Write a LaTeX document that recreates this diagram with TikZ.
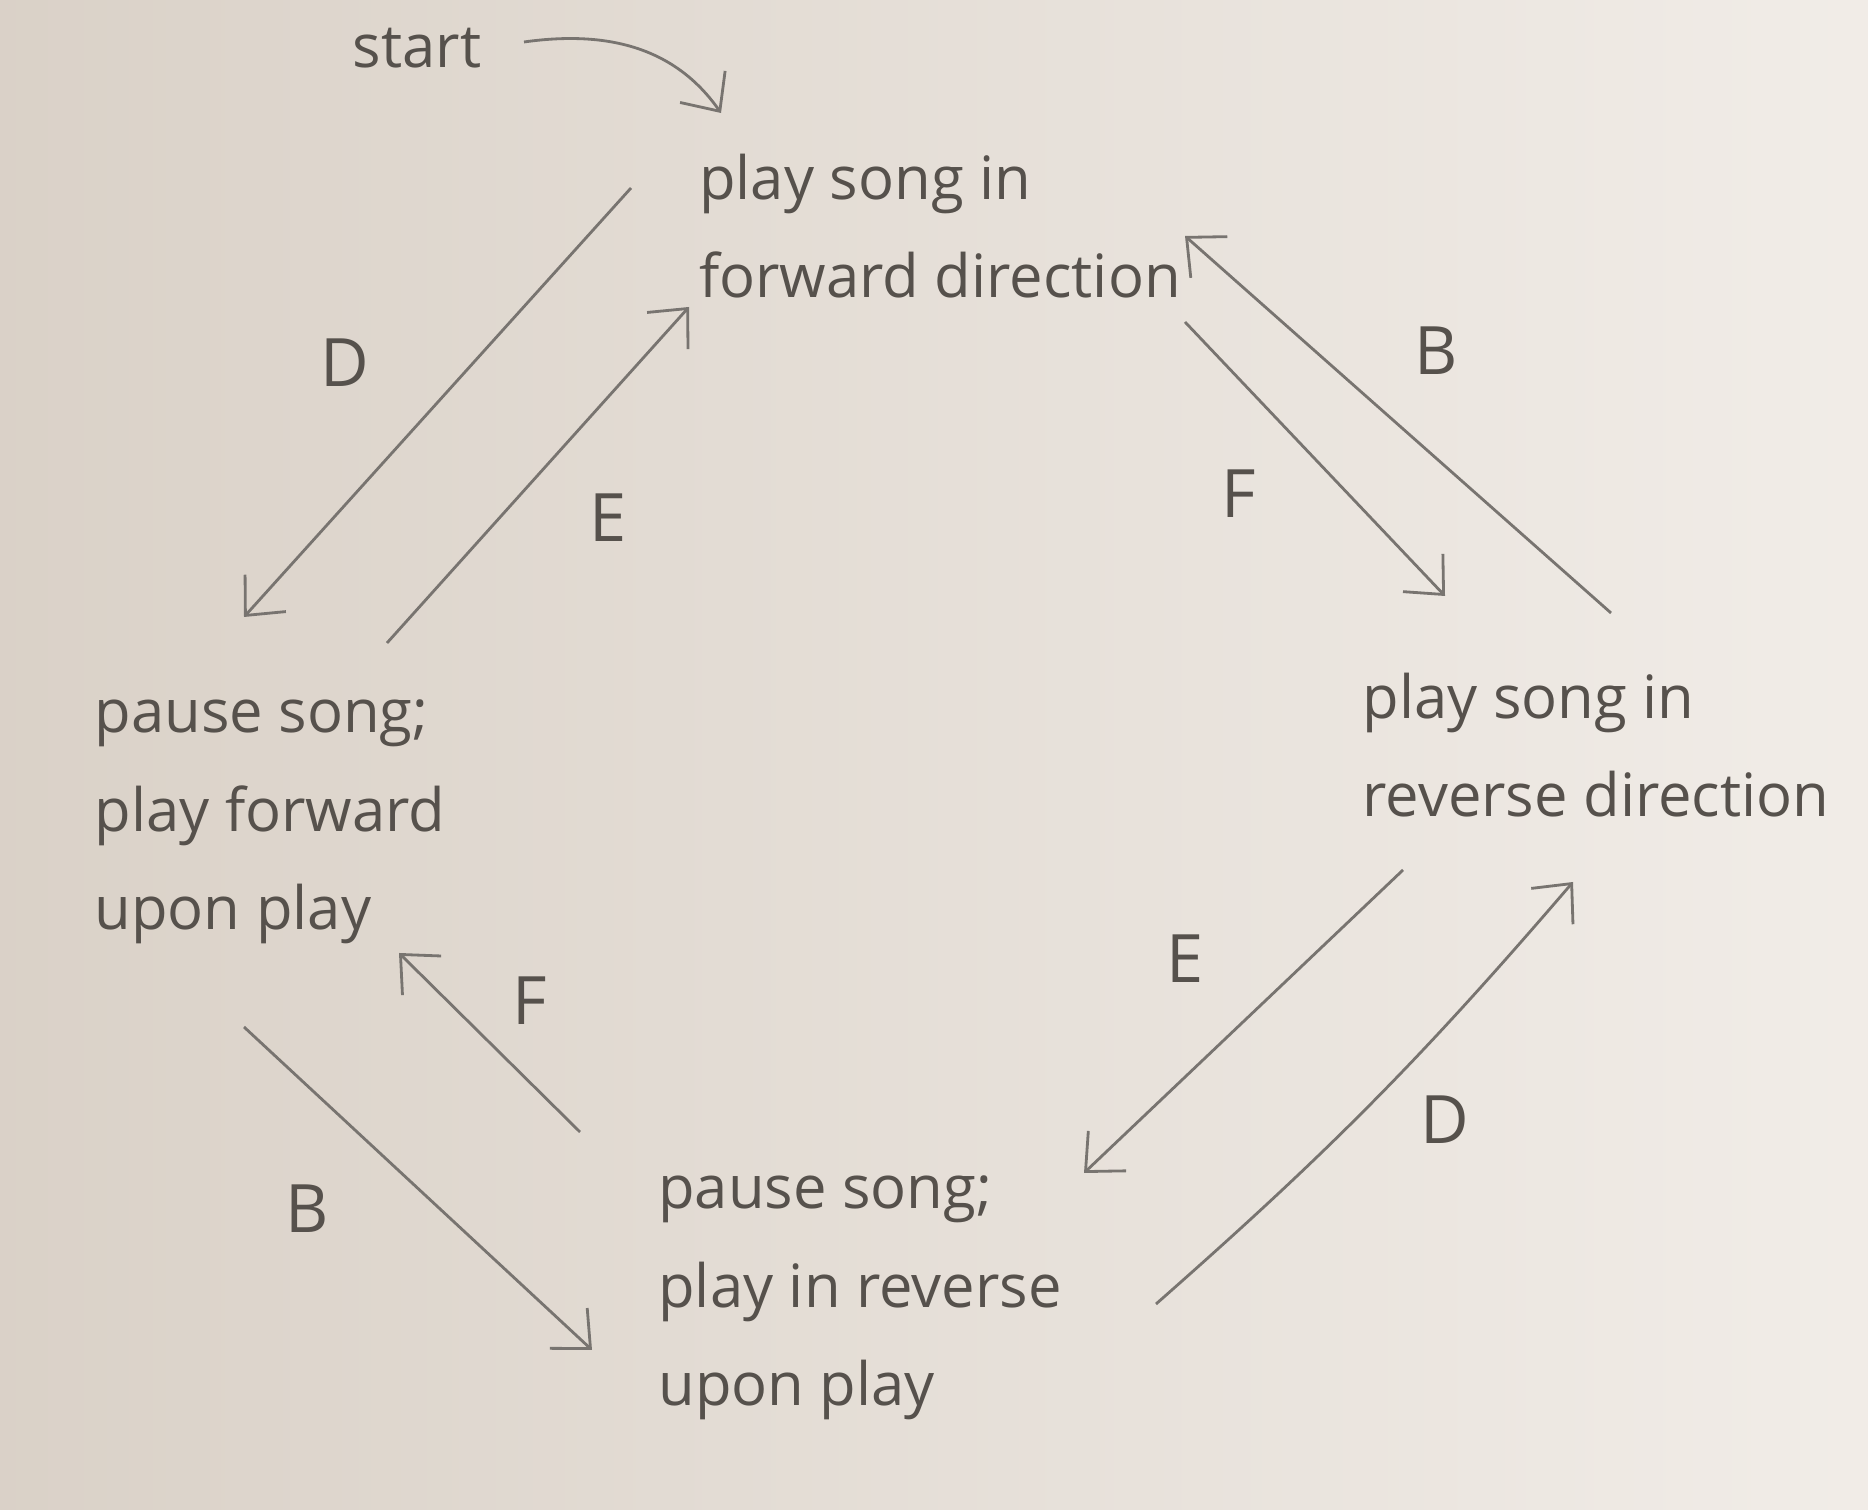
\documentclass[tikz,border=0pt]{standalone}
\usepackage{fontspec}
\setmainfont{Open Sans}
\usetikzlibrary{arrows.meta,calc}
\definecolor{paper}{HTML}{E3DAD0}
\definecolor{pencil}{HTML}{56514C}
\begin{document}
\begin{tikzpicture}[>={Straight Barb[length=3mm,width=5.5mm]},
  state/.style={align=left,inner sep=0pt,text=pencil,font=\fontsize{17}{28}\selectfont},
  trans/.style={->,draw=pencil!80,line width=0.8pt},
  lbl/.style={text=pencil,font=\fontsize{19}{19}\selectfont}]
\shade [left color=paper!96!black,right color=paper!50!white] (0,0) rectangle (18.68,15.10);
\useasboundingbox (0,0) rectangle (18.68,15.10);
% states
\node (start) [state] at (4.17,14.62) {start};
\node (fwd) [state] at (9.40,12.84) {play song in\\forward direction};
\node (rev) [state] at (15.96,7.65) {play song in\\reverse direction};
\node (pfwd) [state] at (2.70,6.88) {pause song;\\play forward\\upon play};
\node (prev) [state] at (8.60,2.12) {pause song;\\play in reverse\\upon play};
% start arrow
\draw [trans] ($(start)+(1.07,0.06)$) to[out=8,in=125] ($(fwd)+(-2.19,1.13)$);
% forward <-> pause forward
\draw [trans] ($(fwd)+(-3.09,0.38)$) -- ($(pfwd)+(-0.26,2.05)$);
\draw [trans] ($(pfwd)+(1.17,1.79)$) -- ($(fwd)+(-2.51,-0.81)$);
\node (d1) [lbl] at (3.45,11.47) {D};
\node (e1) [lbl] at (6.08,9.92) {E};
% forward <-> reverse
\draw [trans] ($(rev)+(0.15,1.32)$) -- ($(fwd)+(2.45,-0.10)$);
\draw [trans] ($(fwd)+(2.45,-0.96)$) -- ($(rev)+(-1.51,1.49)$);
\node (b1) [lbl] at (14.36,11.59) {B};
\node (f1) [lbl] at (12.39,10.16) {F};
% reverse <-> pause reverse
\draw [trans] ($(rev)+(-1.93,-1.25)$) -- ($(prev)+(2.24,1.25)$);
\draw [trans] ($(prev)+(2.96,-0.06)$) to[bend right=4] ($(rev)+(-0.23,-1.37)$);
\node (e2) [lbl] at (11.85,5.51) {E};
\node (d2) [lbl] at (14.45,3.90) {D};
% pause reverse <-> pause forward
\draw [trans] ($(prev)+(-2.80,1.66)$) -- ($(pfwd)+(1.29,-1.31)$);
\draw [trans] ($(pfwd)+(-0.26,-2.05)$) -- ($(prev)+(-2.68,-0.52)$);
\node (f2) [lbl] at (5.30,5.09) {F};
\node (b2) [lbl] at (3.07,3.01) {B};
\end{tikzpicture}
\end{document}
